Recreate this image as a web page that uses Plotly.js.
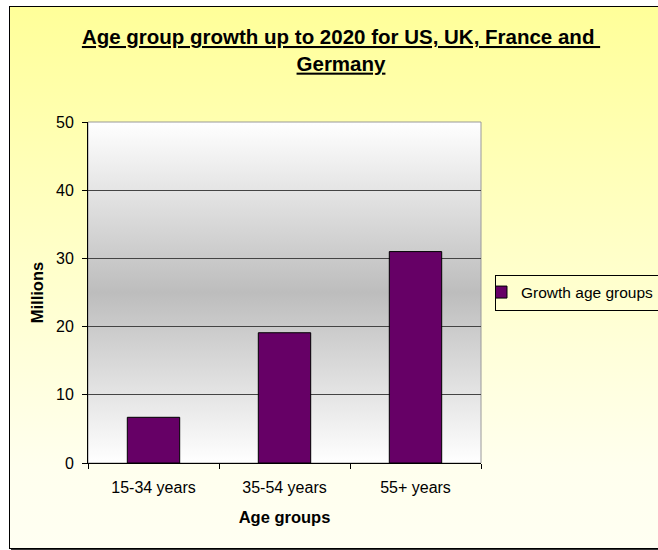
<!DOCTYPE html>
<html>
<head>
<meta charset="utf-8">
<script src="https://cdn.plot.ly/plotly-3.0.1.min.js"></script>
<style>
  html, body { margin: 0; padding: 0; width: 658px; height: 550px; overflow: hidden; background: #ffffff; }
  #frame {
    position: absolute; left: 9px; top: 6px;
    width: 662px; height: 541px;
    border: 1px solid #000;
    box-shadow: 2px 2px 0 #333;
    background: linear-gradient(to bottom, #ffff99 0%, #ffffc8 45%, #ffffee 85%, #fffff2 100%);
  }
  #chart { position: absolute; left: 0; top: 0; width: 662px; height: 541px; }
</style>
</head>
<body>
<div id="frame"><div id="chart"></div></div>
<script>
// ---- data ----
const categories = ["15-34 years", "35-54 years", "55+ years"];
const growthValues = [6.7, 19.1, 31.0];
const seriesName = "Growth age groups";
const yTickValues = [0, 10, 20, 30, 40, 50];
const chartTitle = "Age group growth up to 2020 for US, UK, France and <br>Germany";
const xTitle = "Age groups";
const yTitle = "Millions";

const FONT = "Liberation Sans, Arial, Helvetica, sans-serif";

const gradSvg = '<svg xmlns="http://www.w3.org/2000/svg" width="100" height="100" preserveAspectRatio="none">' +
  '<defs><linearGradient id="g" x1="0" y1="0" x2="0" y2="1">' +
  '<stop offset="0" stop-color="#ffffff"/>' +
  '<stop offset="0.5" stop-color="#bdbdbd"/>' +
  '<stop offset="1" stop-color="#ffffff"/>' +
  '</linearGradient></defs><rect width="100" height="100" fill="url(#g)"/></svg>';
const gradUri = 'data:image/svg+xml;charset=utf-8,' + encodeURIComponent(gradSvg);

const trace = {
  type: 'bar',
  x: categories,
  y: growthValues,
  name: seriesName,
  marker: { color: '#660066', line: { color: '#000000', width: 1 } },
  showlegend: true,
  hoverinfo: 'x+y'
};

const layout = {
  width: 662,
  height: 541,
  margin: { l: 78, r: 191, t: 115, b: 85, autoexpand: false },
  paper_bgcolor: 'rgba(0,0,0,0)',
  plot_bgcolor: 'rgba(0,0,0,0)',
  font: { family: FONT, size: 16, color: '#000' },
  title: {
    text: chartTitle,
    font: { family: FONT, size: 20.5, weight: 'bold', color: '#000', lineposition: 'under' },
    x: 0.5, xref: 'container', xanchor: 'center',
    y: 1 - 37 / 541, yref: 'container', yanchor: 'top'
  },
  showlegend: true,
  legend: {
    x: 1.0356, xanchor: 'left', y: 0.5, yanchor: 'middle',
    xref: 'paper', yref: 'paper',
    bgcolor: 'rgba(0,0,0,0)', bordercolor: '#000', borderwidth: 1,
    font: { family: FONT, size: 15.5, color: '#000' },
    indentation: -15
  },
  bargap: 0.6,
  xaxis: {
    type: 'category',
    tickson: 'boundaries',
    ticks: 'outside', ticklen: 5, tickcolor: '#000', tickwidth: 1,
    ticklabelstandoff: 10,
    showline: true, linecolor: '#000', linewidth: 1,
    showgrid: false, zeroline: false,
    tickfont: { family: FONT, size: 16, color: '#000' },
    title: { text: xTitle, font: { family: FONT, size: 16.5, weight: 'bold', color: '#000' }, standoff: 16 },
    automargin: false
  },
  yaxis: {
    range: [0, 50],
    tickvals: yTickValues,
    ticks: 'outside', ticklen: 5, tickcolor: '#000', tickwidth: 1,
    ticklabelstandoff: 5,
    showline: true, linecolor: '#000', linewidth: 1,
    showgrid: true, gridcolor: '#444', gridwidth: 1,
    zeroline: false,
    tickfont: { family: FONT, size: 16, color: '#000' },
    title: { text: yTitle, font: { family: FONT, size: 16.5, weight: 'bold', color: '#000' }, standoff: 8 },
    automargin: false
  },
  images: [{
    source: gradUri, xref: 'paper', yref: 'paper',
    x: 0, y: 1, sizex: 1, sizey: 1, xanchor: 'left', yanchor: 'top',
    sizing: 'stretch', layer: 'below'
  }],
  shapes: [{
    type: 'rect', xref: 'paper', yref: 'paper', x0: 0, x1: 1, y0: 0, y1: 1,
    line: { color: '#999999', width: 1 }, fillcolor: 'rgba(0,0,0,0)', layer: 'below'
  }]
};

Plotly.newPlot('chart', [trace], layout, { displayModeBar: false, staticPlot: true });
</script>
</body>
</html>
